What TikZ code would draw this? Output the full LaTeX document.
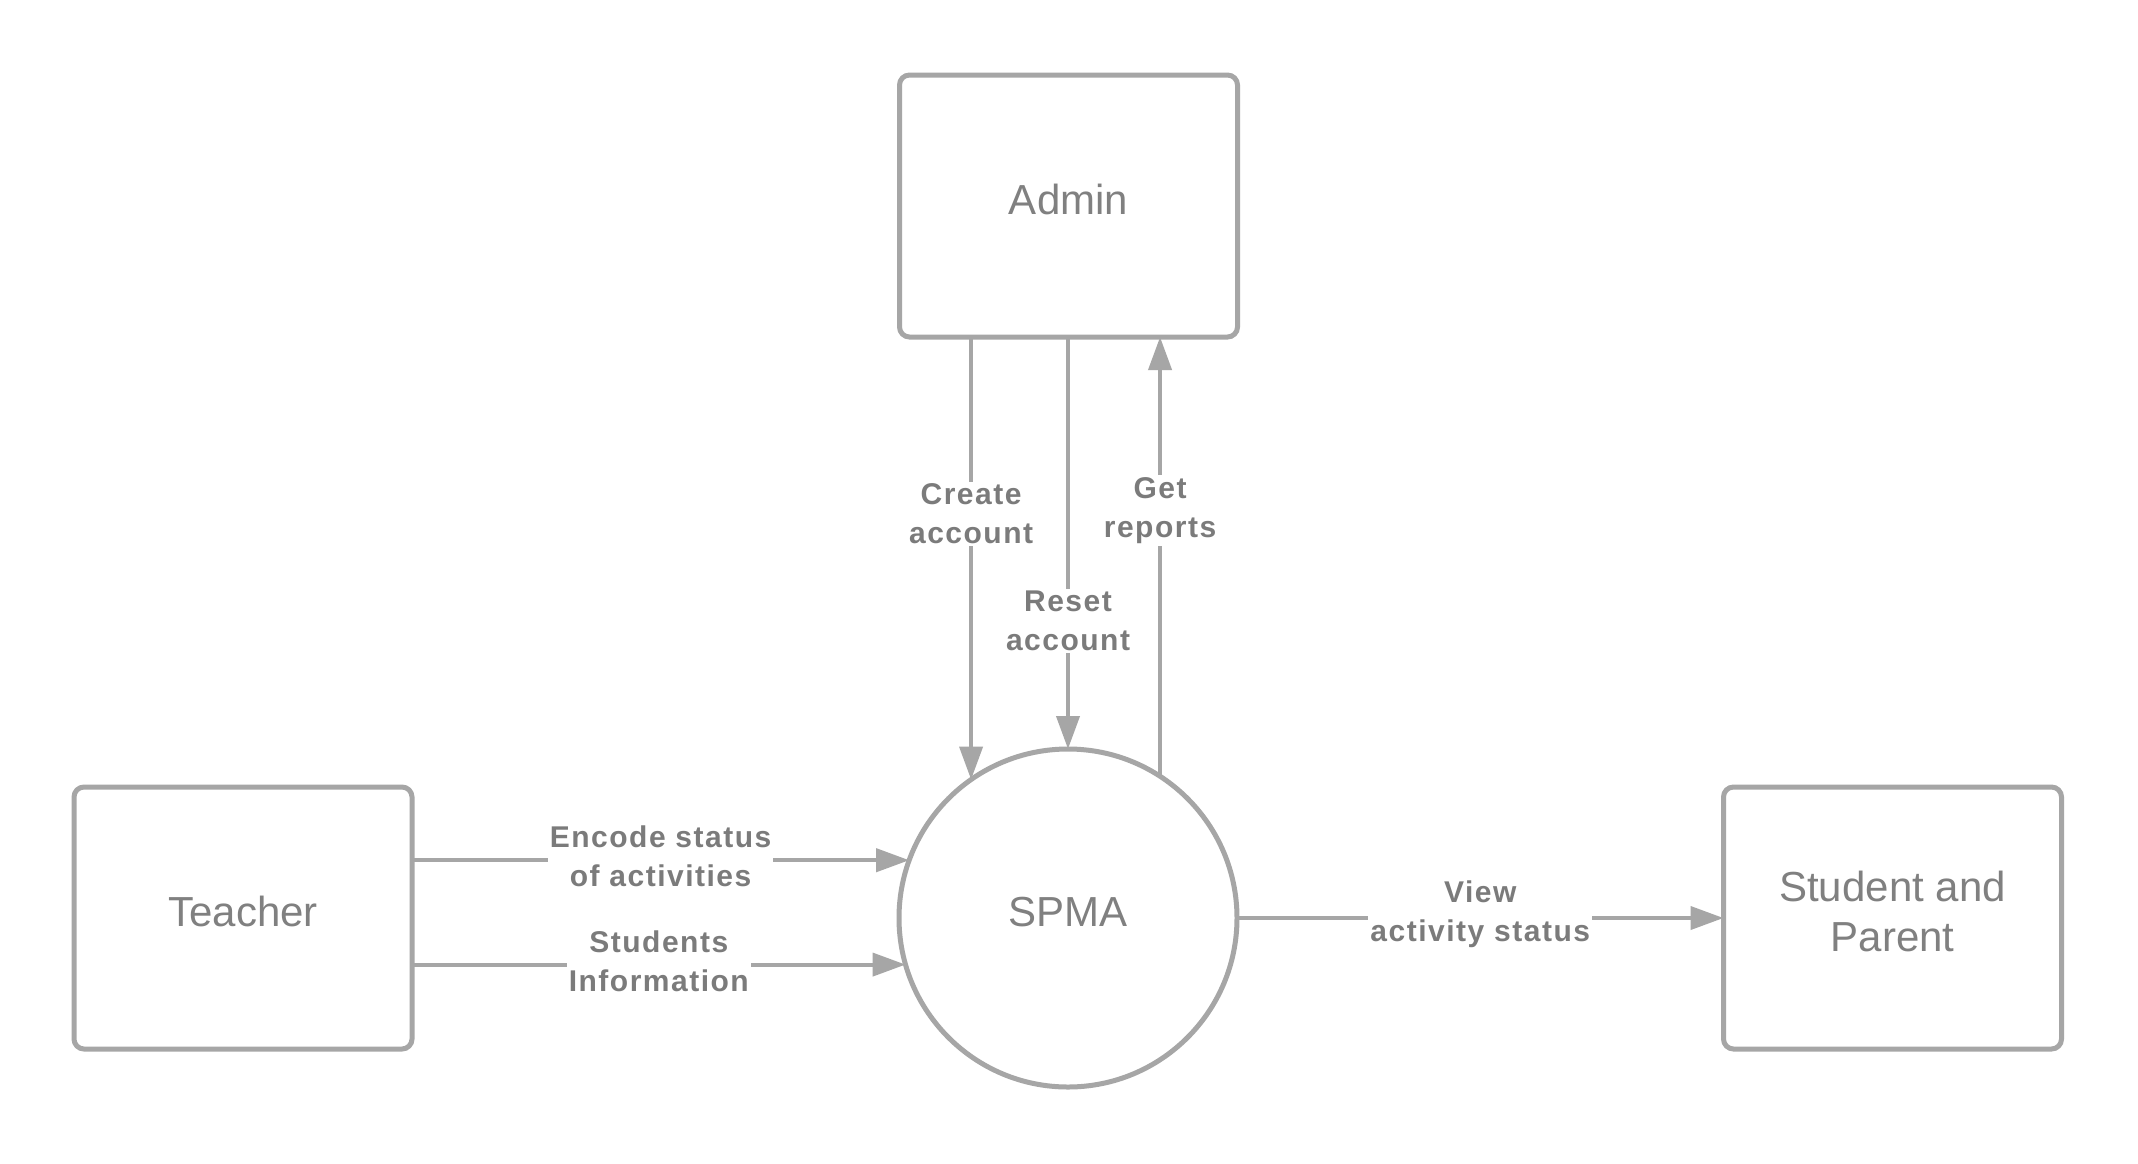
\documentclass[tikz,border=0pt]{standalone}
\usepackage{fontspec}
\setmainfont{Liberation Sans}
\newfontfamily\lblfont[LetterSpace=5]{Liberation Sans}
\usetikzlibrary{arrows.meta}
\definecolor{linegray}{HTML}{A6A6A6}
\definecolor{txtgray}{HTML}{808080}
\definecolor{lblgray}{HTML}{7B7B7B}
\begin{document}
\begin{tikzpicture}[x=1pt,y=-1pt,
  box/.style={draw=linegray, line width=5pt, rounded corners=10pt, minimum width=338pt, minimum height=262pt, outer sep=0pt, inner sep=0pt, text=txtgray, font=\fontsize{42}{50}\selectfont, align=center, text depth=13pt},
  proc/.style={circle, draw=linegray, line width=5pt, minimum size=338pt, inner sep=0pt, outer sep=0pt, text=txtgray, font=\fontsize{42}{50}\selectfont, text depth=13pt},
  flow/.style={draw=linegray, line width=4pt, -{Triangle[length=33pt,width=23pt]}},
  lbl/.style={fill=white, text=lblgray, font=\lblfont\bfseries\fontsize{30}{39}\selectfont, align=center, inner sep=2pt},
  hlbl/.style={lbl, yshift=3.5pt}
]
\useasboundingbox[fill=white] (0,0) rectangle (2138,1163);
\node[box] (admin) at (1068.5,206) {Admin};
\node[box] (teacher) at (243,918) {Teacher};
\node[box] (stu) at (1892.5,918) {Student and\\Parent};
\node[proc] (spma) at (1068,918) {SPMA};

\draw[flow] (admin.south -| spma.125.9) -- node[lbl,pos=0.40]{Create\\account} (spma.125.9);
\draw[flow] (admin.south -| spma.north) -- node[lbl,pos=0.69]{Reset\\account} (spma.north);
\draw[flow] (spma.57.8) -- node[lbl,pos=0.605]{Get\\reports} (admin.south -| spma.57.8);
\draw[flow] (teacher.east |- spma.160.65) -- node[hlbl,pos=0.5]{Encode status\\of activities} (spma.160.65);
\draw[flow] (teacher.east |- spma.196.86) -- node[hlbl,pos=0.5]{Students\\Information} (spma.196.86);
\draw[flow] (spma.east) -- node[hlbl,pos=0.5]{View\\activity status} (stu.west);
\end{tikzpicture}
\end{document}
